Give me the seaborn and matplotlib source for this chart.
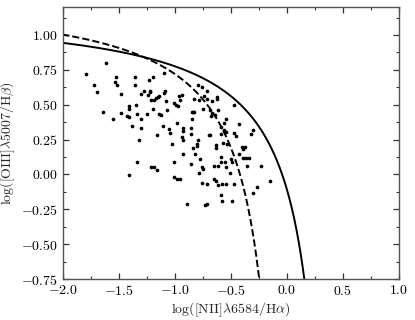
import numpy as np
import pandas as pd
import matplotlib
matplotlib.use("Agg")
import matplotlib.pyplot as plt
from matplotlib.ticker import MultipleLocator
import seaborn as sns

# galaxy line ratios
nii_ha = [
    -1.795, -1.616, -1.72, -1.70, -1.646, -1.556, -1.536, -1.53, -1.515, -1.485,
    -1.485, -1.43, -1.41, -1.41, -1.41, -1.38, -1.357, -1.357, -1.35, -1.34,
    -1.325, -1.307, -1.30, -1.30, -1.274, -1.253, -1.24, -1.232, -1.223, -1.22,
    -1.217, -1.20, -1.20, -1.19, -1.17, -1.16, -1.155, -1.143, -1.14, -1.125,
    -1.11, -1.095, -1.095, -1.087, -1.08, -1.07, -1.05, -1.047, -1.027, -1.01,
    -0.994, -0.985, -0.976, -0.962, -0.953, -0.94, -0.94, -0.93, -0.926, -0.926,
    -0.926, -0.86, -0.857, -0.85, -0.848, -0.84, -0.837, -0.83, -0.828, -0.82,
    -0.807, -0.80, -0.79, -0.79, -0.783, -0.777, -0.76, -0.753, -0.74, -0.70,
    -0.717, -0.712, -0.67, -0.628, -0.628, -0.688, -0.67, -0.68, -0.643, -0.613,
    -0.54, -0.47, -0.426, -0.688, -0.59, -0.563, -0.54, -0.47, -0.455, -0.30,
    -0.32, -0.634, -0.634, -0.574, -0.533, -0.405, -0.375, -0.39, -0.59, -0.426,
    -0.396, -0.366, -0.336, -0.50,
    -1.41, -1.34, -1.21, -1.185, -1.16, -1.01, -1.006, -0.985, -0.955, -0.86,
    -0.89, -0.783, -0.76, -0.747, -0.76, -0.717, -0.73, -0.71,
    -0.652, -0.613, -0.59, -0.553, -0.545, -0.51, -0.495, -0.36, -0.235, -0.652,
    -0.634, -0.613, -0.583, -0.54, -0.473, -0.59, -0.583, -0.495, -0.30, -0.265,
    -0.152, -0.59, -0.56,
]
oiii_hb = [
    0.718, 0.80, 0.64, 0.59, 0.45, 0.40, 0.66, 0.70, 0.64, 0.58,
    0.44, 0.42, 0.49, 0.47, 0.41, 0.35, 0.70, 0.64, 0.50, 0.435,
    0.25, 0.58, 0.40, 0.33, 0.60, 0.43, 0.57, 0.68, 0.60, 0.59,
    0.53, 0.70, 0.47, 0.53, 0.55, 0.285, 0.555, 0.565, 0.43, 0.425,
    0.345, 0.585, 0.73, 0.60, 0.525, 0.465, 0.325, 0.30, 0.215, 0.51,
    0.50, 0.37, 0.49, 0.56, 0.53, 0.57, 0.27, 0.15, 0.245, 0.31,
    0.335, 0.29, 0.33, 0.40, 0.45, 0.445, 0.19, 0.54, 0.45, 0.147,
    0.205, 0.217, 0.64, 0.25, 0.536, 0.11, 0.626, 0.47, 0.565, 0.285,
    0.60, 0.54, 0.523, 0.555, 0.54, 0.46, 0.44, 0.42, 0.425, 0.46,
    0.40, 0.495, 0.36, 0.28, 0.29, 0.316, 0.305, 0.30, 0.275, 0.32,
    0.29, 0.21, 0.186, 0.226, 0.216, 0.20, 0.20, 0.18, 0.125, 0.145,
    0.12, 0.12, 0.12, 0.107,
    -0.005, 0.09, 0.05, 0.05, 0.03, 0.09, -0.017, -0.03, -0.035, 0.073,
    -0.21, 0.01, 0.05, 0.036, -0.065, -0.07, -0.22, -0.215,
    0.06, 0.06, 0.09, 0.09, 0.05, 0.01, 0.09, 0.06, 0.06, -0.03,
    -0.045, -0.075, -0.07, -0.07, -0.07, -0.15, -0.19, -0.19, -0.13, -0.09,
    -0.05, 0.34, 0.37,
]

# demarcation lines: y = a / (x - b) + c
kewley = (0.61, 0.47, 1.19)     # Kewley et al. 2001, solid
kauffmann = (0.61, 0.05, 1.30)  # Kauffmann et al. 2003, dashed

sns.set_style("ticks")
plt.rcParams["font.family"] = "serif"
plt.rcParams["font.serif"] = ["cmr10", "DejaVu Serif"]
plt.rcParams["mathtext.fontset"] = "cm"
plt.rcParams["axes.formatter.use_mathtext"] = True

fig = plt.figure(figsize=(4.15, 3.2), dpi=100)
ax = fig.add_axes([0.152, 0.128, 0.809, 0.85])

df = pd.DataFrame({"x": nii_ha, "y": oiii_hb})
sns.scatterplot(data=df, x="x", y="y", color="black", s=7, linewidth=0, ax=ax)

xk = np.linspace(-2.1, kewley[1] - 0.01, 600)
sns.lineplot(x=xk, y=kewley[0] / (xk - kewley[1]) + kewley[2],
             color="black", lw=1.4, ax=ax)
xa = np.linspace(-2.1, kauffmann[1] - 0.01, 600)
sns.lineplot(x=xa, y=kauffmann[0] / (xa - kauffmann[1]) + kauffmann[2],
             color="black", lw=1.4, linestyle="--", ax=ax)

ax.set_xlim(-2.0, 1.0)
ax.set_ylim(-0.75, 1.2)
ax.xaxis.set_major_locator(MultipleLocator(0.5))
ax.xaxis.set_minor_locator(MultipleLocator(0.25))
ax.yaxis.set_major_locator(MultipleLocator(0.25))
ax.yaxis.set_minor_locator(MultipleLocator(0.125))
ax.tick_params(which="both", direction="in", top=True, right=True,
               labelsize=10, colors="#333333", labelcolor="black")
ax.tick_params(which="major", length=4, width=0.9)
ax.tick_params(which="minor", length=2, width=0.8)
for sp in ax.spines.values():
    sp.set_color("#555555")
    sp.set_linewidth(1.0)

ax.set_xlabel(r"$\log([\mathrm{NII}]\lambda6584/\mathrm{H}\alpha)$", fontsize=10, labelpad=2)
ax.set_ylabel(r"$\log([\mathrm{OIII}]\lambda5007/\mathrm{H}\beta)$", fontsize=10, labelpad=3)

fig.savefig("out.png", dpi=100)
